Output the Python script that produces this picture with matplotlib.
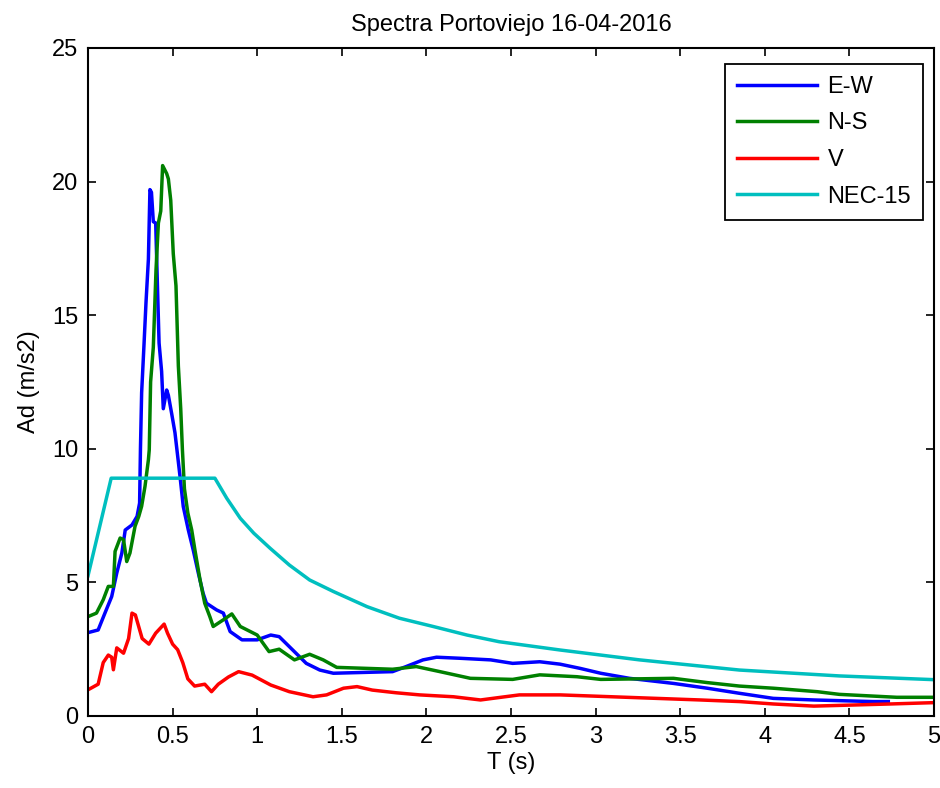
import matplotlib
matplotlib.use("Agg")
import matplotlib.pyplot as plt

plt.rcParams['font.family'] = ['Liberation Sans', 'DejaVu Sans']

# E-W component
t_ew = [0, 0.06, 0.10, 0.14, 0.17, 0.20, 0.22, 0.26, 0.29, 0.305, 0.31, 0.317, 0.331, 0.343,
        0.357, 0.366, 0.375, 0.386, 0.40, 0.41, 0.42, 0.435, 0.445, 0.465, 0.475, 0.495, 0.514,
        0.544, 0.563, 0.593, 0.622, 0.652, 0.68, 0.70, 0.76, 0.80, 0.84, 0.91, 1.0, 1.08, 1.13,
        1.21, 1.29, 1.37, 1.45, 1.80, 1.88, 1.98, 2.06, 2.20, 2.38, 2.51, 2.67, 2.79, 2.91, 3.03,
        3.20, 3.46, 3.66, 3.85, 4.05, 4.29, 4.64, 4.73]
a_ew = [3.12, 3.22, 3.85, 4.47, 5.35, 6.1, 6.96, 7.15, 7.47, 7.97, 10.0, 12.1, 13.9, 15.5,
        17.1, 19.7, 19.6, 18.5, 18.45, 16.2, 13.96, 12.9, 11.5, 12.2, 12.0, 11.3, 10.6,
        8.96, 7.84, 6.96, 6.21, 5.35, 4.6, 4.22, 3.97, 3.85, 3.16, 2.85, 2.85, 3.03, 2.97,
        2.47, 1.97, 1.72, 1.6, 1.66, 1.85, 2.1, 2.2, 2.16, 2.1, 1.97, 2.03, 1.94, 1.78, 1.6,
        1.41, 1.22, 1.04, 0.85, 0.66, 0.6, 0.54, 0.54]

# N-S component
t_ns = [0, 0.05, 0.09, 0.12, 0.15, 0.16, 0.19, 0.21, 0.229, 0.248, 0.278, 0.30, 0.317, 0.337,
        0.357, 0.362, 0.37, 0.386, 0.402, 0.416, 0.43, 0.441, 0.465, 0.475, 0.489, 0.504, 0.52,
        0.534, 0.548, 0.558, 0.57, 0.59, 0.613, 0.632, 0.662, 0.69, 0.72, 0.74, 0.80, 0.85, 0.90,
        1.0, 1.07, 1.13, 1.22, 1.31, 1.39, 1.47, 1.80, 1.94, 2.08, 2.26, 2.51, 2.67, 2.89, 3.03,
        3.46, 3.66, 3.85, 4.05, 4.31, 4.44, 4.78, 5.0]
a_ns = [3.72, 3.85, 4.35, 4.85, 4.85, 6.16, 6.66, 6.6, 5.78, 6.1, 7.1, 7.47, 7.85, 8.6,
        9.59, 9.96, 12.5, 13.8, 16.7, 18.45, 18.9, 20.6, 20.3, 20.1, 19.3, 17.3, 16.1,
        13.1, 11.5, 9.96, 8.5, 7.6, 6.96, 6.21, 5.1, 4.22, 3.72, 3.35, 3.6, 3.82, 3.35,
        3.03, 2.41, 2.5, 2.1, 2.31, 2.1, 1.82, 1.75, 1.85, 1.66, 1.41, 1.37, 1.54, 1.47, 1.37,
        1.41, 1.25, 1.12, 1.04, 0.91, 0.81, 0.70, 0.70]

# Vertical component
t_v = [0, 0.06, 0.09, 0.12, 0.14, 0.15, 0.17, 0.21, 0.24, 0.26, 0.28, 0.32, 0.36, 0.40, 0.45,
       0.47, 0.50, 0.53, 0.56, 0.59, 0.63, 0.69, 0.73, 0.77, 0.83, 0.89, 0.97, 1.08, 1.19,
       1.33, 1.41, 1.51, 1.59, 1.68, 1.82, 1.96, 2.16, 2.32, 2.44, 2.55, 2.79, 3.62, 3.85,
       4.05, 4.29, 4.74, 5.0]
a_v = [0.98, 1.19, 2.0, 2.28, 2.2, 1.73, 2.55, 2.35, 2.9, 3.85, 3.78, 2.9, 2.69, 3.1, 3.44,
       3.1, 2.69, 2.48, 2.0, 1.39, 1.12, 1.19, 0.91, 1.19, 1.46, 1.66, 1.53, 1.16, 0.91,
       0.72, 0.79, 1.04, 1.1, 0.97, 0.87, 0.79, 0.72, 0.6, 0.7, 0.79, 0.79, 0.6, 0.54,
       0.45, 0.37, 0.45, 0.5]

# NEC-15 design spectrum
t_nec = [0, 0.137, 0.75, 0.82, 0.90, 0.98, 1.076, 1.19, 1.31, 1.45, 1.65, 1.84, 2.04, 2.24,
         2.43, 2.79, 3.26, 3.85, 4.44, 5.0]
a_nec = [5.25, 8.9, 8.9, 8.15, 7.4, 6.84, 6.28, 5.65, 5.09, 4.66, 4.09, 3.66, 3.35, 3.03,
         2.78, 2.47, 2.1, 1.72, 1.5, 1.36]

labels = ['E-W', 'N-S', 'V', 'NEC-15']
colors = ['#0000ff', '#008000', '#ff0000', '#00bfbf']

fig = plt.figure(figsize=(9.4, 7.88), dpi=100)
ax = fig.add_axes([88/940, 1-716/788, 846/940, 668/788])

for t, a, lab, c in zip([t_ew, t_ns, t_v, t_nec], [a_ew, a_ns, a_v, a_nec], labels, colors):
    ax.plot(t, a, color=c, lw=2.5, label=lab)

fs = 17
ax.set_xlim(0, 5)
ax.set_ylim(0, 25)
ax.set_xticks([0, 0.5, 1, 1.5, 2, 2.5, 3, 3.5, 4, 4.5, 5])
ax.set_xticklabels(['0', '0.5', '1', '1.5', '2', '2.5', '3', '3.5', '4', '4.5', '5'])
ax.set_yticks([0, 5, 10, 15, 20, 25])
ax.tick_params(direction='in', top=True, right=True, length=6, width=1.2,
               labelsize=fs, pad=7, colors='black')
for s in ax.spines.values():
    s.set_linewidth(1.5)
    s.set_color('black')

ax.set_xlabel('T (s)', fontsize=fs, labelpad=3)
ax.set_ylabel('Ad (m/s2)', fontsize=fs, labelpad=9)
ax.set_title('Spectra Portoviejo 16-04-2016', fontsize=fs, pad=12)

leg = ax.legend(loc='upper right', bbox_to_anchor=((923-88)/846, (716-64)/668),
                borderaxespad=0, fontsize=fs, handlelength=3.4, handletextpad=0.45,
                labelspacing=0.62, borderpad=0.5, fancybox=False, framealpha=1,
                edgecolor='black')
leg.get_frame().set_linewidth(1.3)

fig.savefig('out.png', dpi=100)
